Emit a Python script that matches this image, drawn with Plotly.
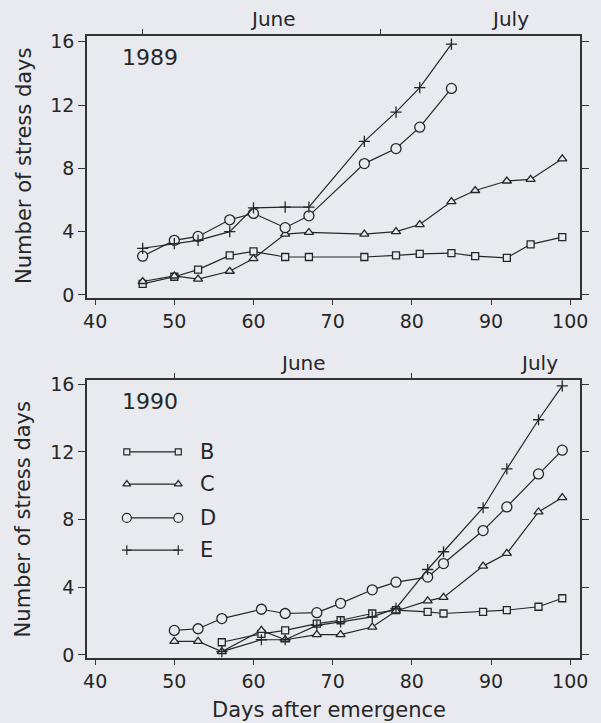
import plotly.graph_objects as go

# ---------------- data ----------------
days_1989 = [46, 50, 53, 57, 60, 64, 67, 74, 78, 81, 85, 88, 92, 95, 99]
B_1989 = [0.7, 1.15, 1.6, 2.5, 2.75, 2.4, 2.4, 2.4, 2.5, 2.6, 2.65, 2.45, 2.35, 3.2, 3.65]
C_1989 = [0.85, 1.2, 1.0, 1.5, 2.3, 3.85, 3.95, 3.85, 4.0, 4.45, 5.9, 6.6, 7.2, 7.3, 8.6]
D_1989 = [2.45, 3.45, 3.7, 4.75, 5.15, 4.25, 5.0, 8.3, 9.25, 10.6, 13.05]
E_1989 = [2.95, 3.25, 3.45, 4.0, 5.5, 5.55, 5.55, 9.7, 11.55, 13.1, 15.85]

days_1990 = [50, 53, 56, 61, 64, 68, 71, 75, 78, 82, 84, 89, 92, 96, 99]
B_1990 = [None, None, 0.75, 1.25, 1.45, 1.85, 2.05, 2.45, 2.65, 2.55, 2.45, 2.55, 2.65, 2.85, 3.35]
C_1990 = [0.8, 0.8, 0.2, 1.45, 0.9, 1.2, 1.2, 1.65, 2.6, 3.2, 3.4, 5.25, 6.0, 8.45, 9.3]
D_1990 = [1.45, 1.55, 2.15, 2.7, 2.45, 2.5, 3.05, 3.85, 4.3, 4.6, 5.4, 7.35, 8.75, 10.7, 12.1]
E_1990 = [None, None, 0.2, 0.9, 0.9, 1.75, 1.95, 2.25, 2.75, 5.05, 6.1, 8.7, 11.0, 13.9, 15.9]

series_names = ["B", "C", "D", "E"]
years = ["1989", "1990"]
month_names = ["June", "July"]
month_starts_1989 = [46, 76]
month_starts_1990 = [50, 80]
y_ticks = [0, 4, 8, 12, 16]
x_ticks = [40, 50, 60, 70, 80, 90, 100]

# ---------------- style ----------------
BG = "#e8eaf0"
INK = "#262626"
FONT = "DejaVu Sans, Liberation Sans, Arial, sans-serif"
symbols = {"B": "square", "C": "triangle-up", "D": "circle", "E": "cross-thin"}
sizes = {"B": 7, "C": 8, "D": 10, "E": 8}

fig = go.Figure()


def add_series(x, y, name, xa, ya):
    fig.add_trace(go.Scatter(
        x=x, y=y, mode="lines+markers", name=name, showlegend=False,
        xaxis=xa, yaxis=ya, connectgaps=False,
        line=dict(color=INK, width=1.2),
        marker=dict(symbol=symbols[name], size=sizes[name], color=BG,
                    line=dict(color=INK, width=1.3)),
    ))


for name, vals in zip(series_names, [B_1989, C_1989, D_1989, E_1989]):
    add_series(days_1989[:len(vals)], vals, name, "x", "y")
for name, vals in zip(series_names, [B_1990, C_1990, D_1990, E_1990]):
    add_series(days_1990[:len(vals)], vals, name, "x2", "y2")

# custom legend (keys with a marker at each end), in bottom panel
leg_x0, leg_x1, leg_lab = 44.0, 50.5, 53.0
leg_rows = [12.0, 10.1, 8.1, 6.2]
for name, ly in zip(series_names, leg_rows):
    fig.add_trace(go.Scatter(
        x=[leg_x0, leg_x1], y=[ly, ly], mode="lines+markers", showlegend=False,
        xaxis="x2", yaxis="y2", hoverinfo="skip",
        line=dict(color=INK, width=1.2),
        marker=dict(symbol=symbols[name], size=sizes[name] - 1, color=BG,
                    line=dict(color=INK, width=1.2)),
    ))
    fig.add_annotation(x=leg_lab, y=ly, xref="x2", yref="y2", text=name,
                       showarrow=False, xanchor="left", yanchor="middle",
                       font=dict(size=21, color=INK, family=FONT))

x_range = [38.97, 101.24]
top_dom = [0.5788, 1.0]
bot_dom = [0.0, 0.447]

axis_common = dict(showgrid=False, zeroline=False, showline=True, linecolor="#333",
                   linewidth=1.5, ticks="outside", tickcolor="#333", tickwidth=1.3,
                   tickfont=dict(size=19, color=INK, family=FONT))

fig.update_layout(
    width=601, height=723,
    margin=dict(l=87, r=13, t=36, b=65),
    paper_bgcolor=BG, plot_bgcolor=BG,
    font=dict(family=FONT, color=INK),
    xaxis=dict(**axis_common, range=x_range, tickvals=x_ticks, ticklen=5,
               mirror=True, anchor="y", domain=[0, 1]),
    yaxis=dict(**axis_common, range=[-0.19, 16.36], tickvals=y_ticks, ticklen=7,
               mirror="ticks", anchor="x", domain=top_dom),
    xaxis2=dict(**axis_common, range=x_range, tickvals=x_ticks, ticklen=5,
                mirror=True, anchor="y2", domain=[0, 1]),
    yaxis2=dict(**axis_common, range=[-0.18, 16.25], tickvals=y_ticks, ticklen=7,
                mirror="ticks", anchor="x2", domain=bot_dom),
    xaxis3=dict(range=x_range, overlaying="x", anchor="y", side="top",
                tickvals=month_starts_1989, ticks="outside", ticklen=6,
                tickcolor="#333", tickwidth=1.3, showticklabels=False,
                showgrid=False, zeroline=False, showline=False),
    xaxis4=dict(range=x_range, overlaying="x2", anchor="y2", side="top",
                tickvals=month_starts_1990, ticks="outside", ticklen=6,
                tickcolor="#333", tickwidth=1.3, showticklabels=False,
                showgrid=False, zeroline=False, showline=False),
)

# dummy traces to activate the month axes
fig.add_trace(go.Scatter(x=[None], y=[None], xaxis="x3", yaxis="y", showlegend=False))
fig.add_trace(go.Scatter(x=[None], y=[None], xaxis="x4", yaxis="y2", showlegend=False))

# month labels
for lbl, xx in zip(month_names, [62.5, 92.4]):
    fig.add_annotation(x=xx, y=top_dom[1], xref="x", yref="paper", text=lbl,
                       showarrow=False, yanchor="bottom", yshift=3,
                       font=dict(size=20, color=INK, family=FONT))
for lbl, xx in zip(month_names, [66.2, 96.1]):
    fig.add_annotation(x=xx, y=bot_dom[1], xref="x2", yref="paper", text=lbl,
                       showarrow=False, yanchor="bottom", yshift=3,
                       font=dict(size=20, color=INK, family=FONT))

# year labels
fig.add_annotation(x=43.1, y=15.0, xref="x", yref="y", text=years[0], showarrow=False,
                   xanchor="left", yanchor="middle", font=dict(size=22, color=INK, family=FONT))
fig.add_annotation(x=43.1, y=14.95, xref="x2", yref="y2", text=years[1], showarrow=False,
                   xanchor="left", yanchor="middle", font=dict(size=22, color=INK, family=FONT))

# axis titles
for yc in [0.791, 0.2227]:
    fig.add_annotation(x=-0.128, y=yc, xref="paper", yref="paper",
                       text="Number of stress days", textangle=-90, showarrow=False,
                       xanchor="center", yanchor="middle",
                       font=dict(size=21, color=INK, family=FONT))
fig.add_annotation(x=0.491, y=-0.083, xref="paper", yref="paper",
                   text="Days after emergence", showarrow=False,
                   xanchor="center", yanchor="middle",
                   font=dict(size=21, color=INK, family=FONT))

fig.write_html("out.html")
